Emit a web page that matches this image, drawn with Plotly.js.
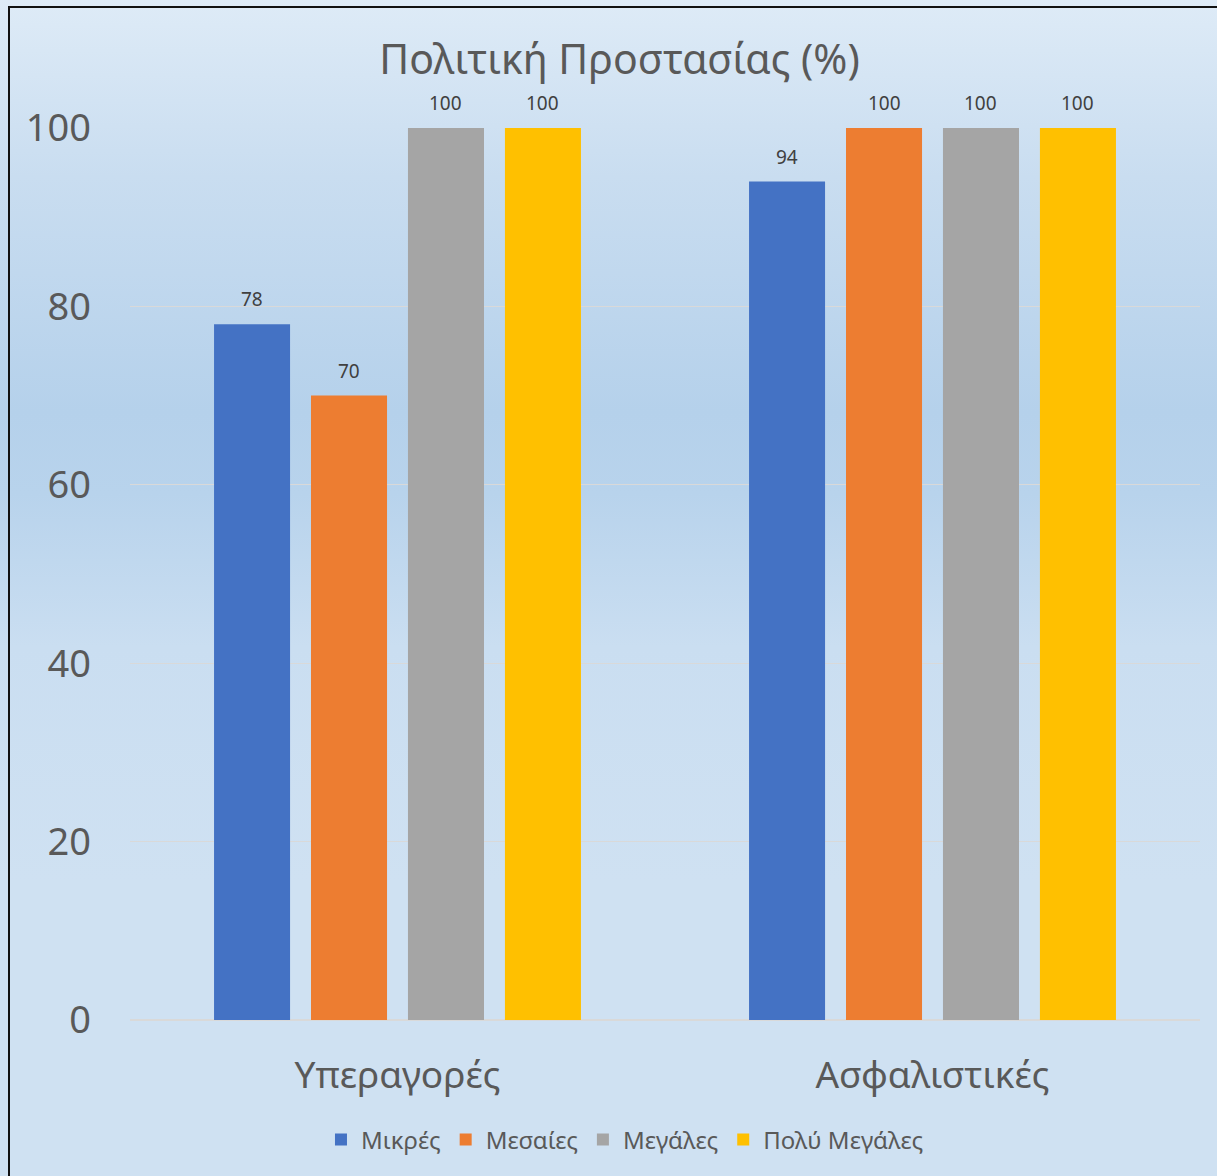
<!DOCTYPE html>
<html><head><meta charset="utf-8">
<script src="https://cdn.plot.ly/plotly-3.0.1.min.js"></script>
<style>
html,body{margin:0;padding:0;}
#wrap{position:relative;width:1217px;height:1176px;overflow:hidden;
background:linear-gradient(to bottom,#deebf7 0%,#c9ddf0 15%,#b5d1eb 35%,#b8d3ec 42%,#cadef1 55%,#cfe1f2 75%,#cfe1f2 100%);}
#frame{position:absolute;left:8px;top:6px;width:1400px;height:1400px;border-left:2px solid #111;border-top:2px solid #111;box-sizing:border-box;}
#chart{position:absolute;left:0;top:0;width:1217px;height:1176px;}
</style></head>
<body><div id="wrap"><div id="frame"></div><div id="chart"></div></div>
<script>
const categories = ["Υπεραγορές", "Ασφαλιστικές"];
const seriesNames = ["Μικρές", "Μεσαίες", "Μεγάλες", "Πολύ Μεγάλες"];
const mikres = [78, 94];
const mesaies = [70, 100];
const megales = [100, 100];
const polyMegales = [100, 100];
const yTicks = [0, 20, 40, 60, 80, 100];
const colors = ["#4472C4", "#ED7D31", "#A5A5A5", "#FFC000"];
const values = [mikres, mesaies, megales, polyMegales];
const FONT = "Noto Sans, Open Sans, sans-serif";
const BARGAP = 0.275, GROUPGAP = 0.216;
const traces = values.map((v, i) => ({
  type: "bar", name: seriesNames[i], x: categories, y: v,
  marker: {color: colors[i]}, hoverinfo: "none"
}));
// data labels as annotations placed at each bar's centre (derived from the group layout)
const slot = (1 - BARGAP) / values.length;
const annotations = [];
values.forEach((v, i) => {
  v.forEach((val, c) => {
    annotations.push({
      xref: "x", yref: "y", x: c + (i - (values.length - 1) / 2) * slot, y: val,
      text: String(val), showarrow: false, yanchor: "bottom", yshift: 10,
      font: {size: 19, color: "#404040", family: FONT}
    });
  });
});
const layout = {
  width: 1217, height: 1176,
  paper_bgcolor: "rgba(0,0,0,0)", plot_bgcolor: "rgba(0,0,0,0)",
  margin: {l: 130, r: 17, t: 128, b: 156},
  font: {family: FONT, color: "#595959"},
  title: {text: "Πολιτική Προστασίας (%)", font: {size: 41, color: "#595959", family: FONT},
          x: 0.509, xanchor: "center", y: 0.949, yanchor: "middle"},
  barmode: "group", bargap: BARGAP, bargroupgap: GROUPGAP,
  annotations: annotations,
  xaxis: {type: "category", tickfont: {size: 37, color: "#595959"}, showgrid: false, showline: false,
          ticks: "", ticklabelstandoff: 30},
  yaxis: {range: [0, 100], tickvals: yTicks, tickfont: {size: 38, color: "#595959"},
          gridcolor: "#d9d9d9", gridwidth: 1.3, zeroline: true, zerolinecolor: "#d9d9d9",
          zerolinewidth: 1.3, showline: false, ticks: "", ticklabelstandoff: 38},
  showlegend: true,
  legend: {orientation: "h", x: 0.4626, xanchor: "center", y: -0.1345, yanchor: "middle",
           font: {size: 24, color: "#595959"}, bgcolor: "rgba(0,0,0,0)", itemwidth: 30,
           traceorder: "normal"}
};
Plotly.newPlot("chart", traces, layout, {displayModeBar: false, staticPlot: true});
</script></body></html>
